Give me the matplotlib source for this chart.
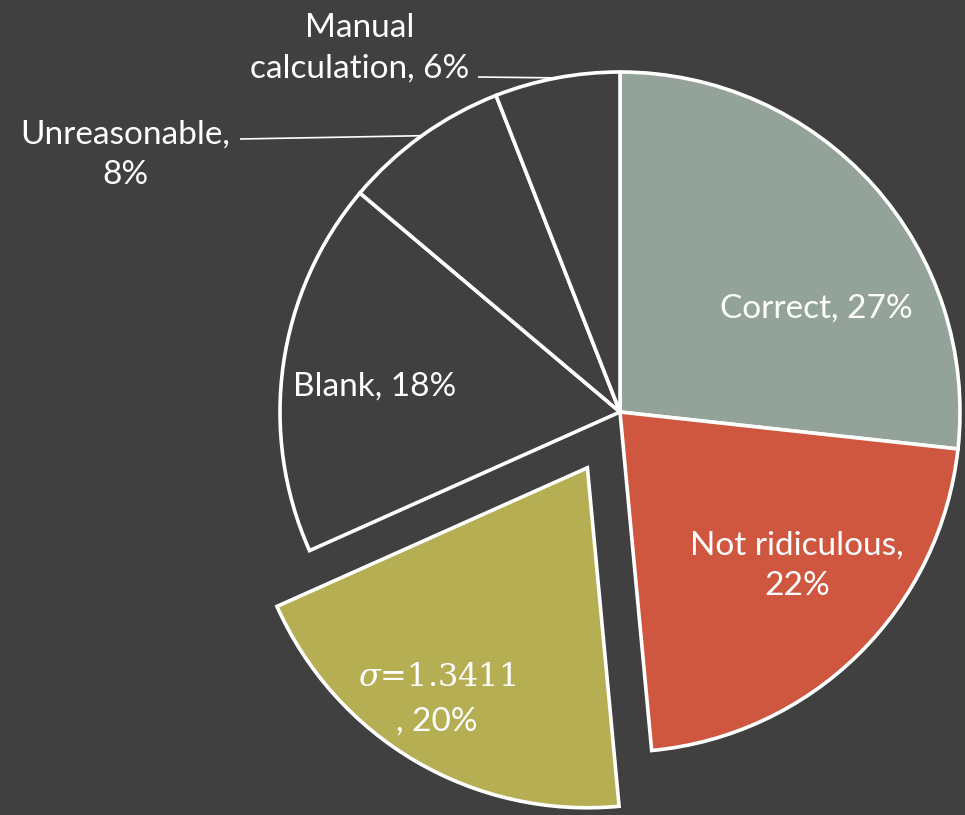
import matplotlib
matplotlib.use("Agg")
import matplotlib.pyplot as plt
import numpy as np

categories = ["Correct", "Not ridiculous", "sigma", "Blank", "Unreasonable", "Manual calculation"]
shares = [27, 22, 20, 18, 8, 6]
labels = ["Correct, 27%", "Not ridiculous,\n22%", None, "Blank, 18%",
          "Unreasonable,\n8%", "Manual\ncalculation, 6%"]
colors = ["#94A39A", "#CF5740", "#B5AE53", "#404040", "#404040", "#404040"]
explode = [0, 0, 0.19, 0, 0, 0]

BG = "#404040"
W, H = 965, 815
cx, cy, R = 620, H - 412, 340

plt.rcParams["font.family"] = ["Lato", "DejaVu Sans"]
plt.rcParams["mathtext.fontset"] = "dejavuserif"

fig = plt.figure(figsize=(W / 100, H / 100), dpi=100, facecolor=BG)
ax = fig.add_axes([0, 0, 1, 1])
ax.set_facecolor(BG)

# pie() takes explode as an absolute offset, so scale it by the radius
wedges, _ = ax.pie(shares, colors=colors, explode=[e * R for e in explode],
                   startangle=90, counterclock=False, center=(cx, cy), radius=R,
                   wedgeprops=dict(edgecolor="white", linewidth=2.6))
ax.set_xlim(0, W)
ax.set_ylim(0, H)
ax.set_aspect("equal")
ax.axis("off")

fs = 24
txt = dict(color="white", fontsize=fs, ha="center", va="center", linespacing=1.45)

# labels inside the slices
ax.text(816, H - 309, labels[0], **txt)
ax.text(797, H - 566, labels[1], **txt)
ax.text(375, H - 387, labels[3], **txt)
ax.text(437, H - 678, r"$\sigma$=1.3411", color="white", fontsize=23,
        ha="center", va="center", family="DejaVu Serif")
ax.text(437, H - 722, ", 20%", **txt)

# outside labels with leader lines to the arc
ax.text(125, H - 155, labels[4], **txt)
ax.text(360, H - 48, labels[5], **txt)

leaders = {4: (240, H - 139), 5: (478, H - 77)}
for i, (x0, y0) in leaders.items():
    w = wedges[i]
    mid = np.deg2rad((w.theta1 + w.theta2) / 2)
    x1 = cx + R * np.cos(mid)
    y1 = cy + R * np.sin(mid)
    ax.plot([x0, x1], [y0, y1], color="white", lw=1.2, solid_capstyle="butt")

fig.savefig("out.png", dpi=100, facecolor=BG)
